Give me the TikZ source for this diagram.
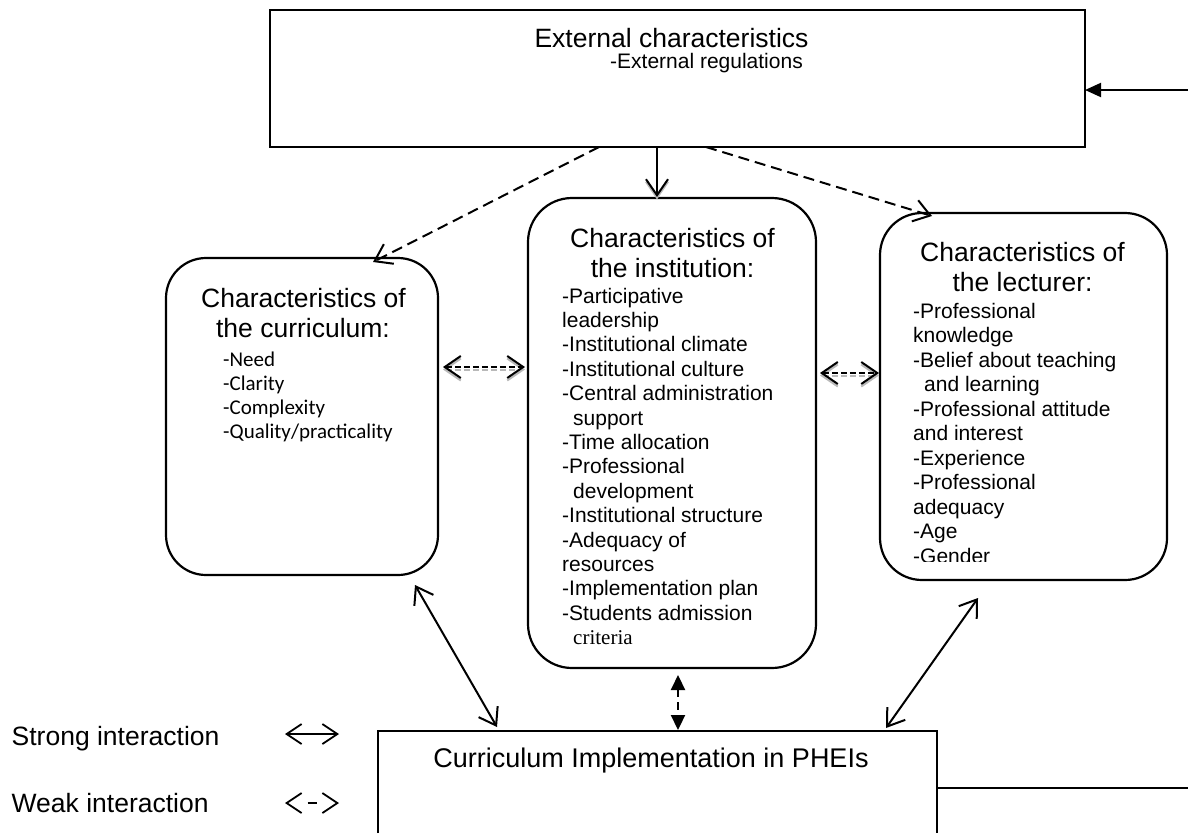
\documentclass[tikz,border=0pt]{standalone}
\usepackage{fontspec}
\setmainfont{Liberation Sans}
\newfontfamily\calibrifont{Carlito}
\newfontfamily\timesfont{Liberation Serif}
\usetikzlibrary{arrows.meta,calc}

\begin{document}
\begin{tikzpicture}[x=1pt,y=-1pt,
  box/.style={draw, line width=2.2pt, inner sep=0pt, outer sep=0pt},
  rbox/.style={box, rounded corners=#1},
  heading/.style={anchor=base, inner sep=0pt, font=\fontsize{26.5}{30}\selectfont},
  item/.style={anchor=base west, inner sep=0pt, font=\fontsize{21}{24}\selectfont},
  citem/.style={anchor=base west, inner sep=0pt, font=\calibrifont\fontsize{21}{24}\selectfont},
  onehead/.style={line width=2pt, -{Straight Barb[length=16pt,width=22pt]}},
  twohead/.style={line width=2pt, {Straight Barb[length=16pt,width=22pt]}-{Straight Barb[length=16pt,width=22pt]}},
  longdash/.style={dash pattern=on 11pt off 6pt},
  shortdash/.style={dash pattern=on 6pt off 3pt},
  shade/.style={draw=gray!55, transform canvas={yshift=-2.5pt}},
  trihead/.style={line width=2.2pt, {Triangle[length=15pt,width=14pt]}-{Triangle[length=15pt,width=14pt]}},
  legendarrow/.style={line width=1.8pt, {Straight Barb[length=15pt,width=20pt]}-{Straight Barb[length=15pt,width=20pt]}}
]
\useasboundingbox (0,0) rectangle (1188,833);

% ---- boxes ----
\node[box, minimum width=815pt, minimum height=137pt] (ext) at (677.5,78.5) {};
\node[rbox=40pt, minimum width=272pt, minimum height=317pt] (cur) at (302,416.5) {};
\node[rbox=44pt, minimum width=288pt, minimum height=470pt] (ins) at (672,433) {};
\node[rbox=42pt, minimum width=287pt, minimum height=367pt] (lec) at (1023.5,396.5) {};
\node[inner sep=0pt, outer sep=0pt, minimum width=559pt, minimum height=102pt] (imp) at (657.5,782) {};
\draw[line width=2.2pt] (imp.south west) -- (imp.north west) -- (imp.north east) -- (imp.south east);

% ---- external characteristics ----
\node[heading] (ext-t) at (671.5,47) {External characteristics};
\node[item] (ext-1) at (610,68) {-External regulations};

% ---- curriculum ----
\node[heading] (cur-t1) at (303.5,307) {Characteristics of};
\node[heading] (cur-t2) at (303,337) {the curriculum:};
\foreach \t [count=\k from 0] in {-Need,-Clarity,-Complexity,-Quality/practicality}
  \node[citem] (cur-\k) at (223,{366+24.3*\k}) {\t};

% ---- institution ----
\node[heading] (ins-t1) at (672.5,247) {Characteristics of};
\node[heading] (ins-t2) at (672.5,277) {the institution:};
\foreach \t [count=\k from 0] in {-Participative,leadership,-Institutional climate,
    -Institutional culture,-Central administration,{\hspace*{11pt}support},
    -Time allocation,-Professional,{\hspace*{11pt}development},
    -Institutional structure,-Adequacy of,resources,-Implementation plan,
    -Students admission,{\timesfont\hspace*{11pt}criteria}}
  \node[item] (ins-\k) at (562,{303+24.4*\k}) {\t};

% ---- lecturer ----
\node[heading] (lec-t1) at (1022.5,261) {Characteristics of};
\node[heading] (lec-t2) at (1022.5,291) {the lecturer:};
\foreach \t [count=\k from 0] in {-Professional,knowledge,-Belief about teaching,
    {\hspace*{11pt}and learning},-Professional attitude,and interest,-Experience,
    -Professional,adequacy,-Age}
  \node[item] (lec-\k) at (913,{318+24.5*\k}) {\t};
\begin{scope}
  \clip (900,530) rectangle (1160,561);
  \node[item] (lec-10) at (913,563) {-Gender};
\end{scope}

% ---- implementation ----
\node[heading, font=\fontsize{27}{30}\selectfont] (imp-t) at (651,767) {Curriculum Implementation in PHEIs};

% ---- connectors ----
\draw[onehead, longdash] ($(ext.south)+(-78.5,0)$) -- ($(cur.north)+(71,4)$);
\draw[onehead, shade] ($(ext.south)+(-20.5,0)$) -- ($(ins.north)+(-15,-1)$);
\draw[onehead] ($(ext.south)+(-20.5,0)$) -- ($(ins.north)+(-15,-1)$);
\draw[onehead, longdash] ($(ext.south)+(28.5,0)$) -- ($(lec.north)+(-91.5,3)$);

\draw[twohead, shortdash, shade] ($(cur.east)+(5,-49.5)$) -- ($(ins.west)+(-3,-66)$);
\draw[twohead, shortdash] ($(cur.east)+(5,-49.5)$) -- ($(ins.west)+(-3,-66)$);
\draw[twohead, shortdash, shade] ($(ins.east)+(4,-60)$) -- ($(lec.west)+(-1,-23.5)$);
\draw[twohead, shortdash] ($(ins.east)+(4,-60)$) -- ($(lec.west)+(-1,-23.5)$);

\draw[twohead] ($(imp.north)+(-160.5,-4)$) -- ($(cur.south)+(113,10)$);
\draw[twohead] ($(imp.north)+(228.5,-3)$) -- ($(lec.south)+(-45.5,18)$);
\draw[trihead, dash pattern=on 8pt off 5pt] ($(ins.south)+(6,7)$) -- ($(imp.north)+(20.5,-1)$);

\coordinate (fb) at (1188,90);
\draw[line width=2pt, -{Triangle[length=16pt,width=14pt]}] (fb) -- ($(ext.east)+(0,11.5)$);
\coordinate (out) at (1188,788);
\draw[line width=2pt] ($(imp.east)+(0,6)$) -- (out);

% ---- legend ----
\node[anchor=base west, inner sep=0pt, font=\fontsize{26.5}{30}\selectfont] (lg-s) at (11.5,745) {Strong interaction};
\node[anchor=base west, inner sep=0pt, font=\fontsize{26.5}{30}\selectfont] (lg-w) at (11.5,812) {Weak interaction};
\coordinate (ls1) at (285,734);
\coordinate (ls2) at (339,734);
\draw[legendarrow] (ls1) -- (ls2);
\coordinate (lw1) at (285,803);
\coordinate (lw2) at (339,803);
\draw[legendarrow, dash pattern=on 0pt off 200pt] (lw1) -- (lw2);
\draw[line width=1.8pt] ($(lw1)!0.42!(lw2)$) -- ($(lw1)!0.6!(lw2)$);
\end{tikzpicture}
\end{document}
